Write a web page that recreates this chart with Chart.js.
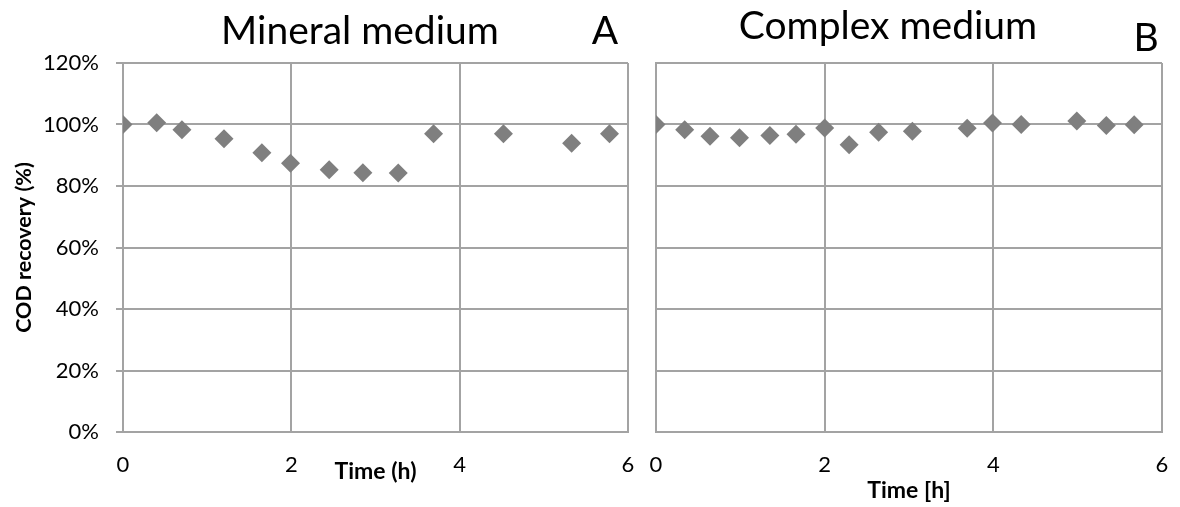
<!DOCTYPE html>
<html>
<head>
<meta charset="utf-8">
<script src="https://cdn.jsdelivr.net/npm/chart.js@4.4.0/dist/chart.umd.min.js"></script>
<style>
  body { margin: 0; background: #fff; }
  .panel { position: absolute; top: 0; }
</style>
</head>
<body>
<div class="panel" style="left:0px"><canvas id="mineralChart" width="640" height="507"></canvas></div>
<div class="panel" style="left:640px"><canvas id="complexChart" width="540" height="507"></canvas></div>
<script>
// sampling times (h) and COD recovery (%) for both media
const mineralTime = [0, 0.40, 0.70, 1.20, 1.65, 1.99, 2.45, 2.85, 3.27, 3.69, 4.52, 5.33, 5.78];
const mineralCOD = [100, 100.6, 98.3, 95.4, 90.8, 87.4, 85.3, 84.3, 84.2, 97.0, 97.0, 93.9, 97.0];

const complexTime = [0, 0.34, 0.64, 0.99, 1.35, 1.66, 2.00, 2.29, 2.64, 3.04, 3.69, 3.99, 4.33, 4.99, 5.34, 5.67];
const complexCOD = [100, 98.3, 96.2, 95.7, 96.4, 96.8, 98.9, 93.4, 97.5, 97.8, 98.8, 100.5, 100, 101.1, 99.7, 99.9];

const timeTicks = [0, 2, 4, 6];
const codTicks = [0, 20, 40, 60, 80, 100, 120];

const FONT = 'Lato, "Open Sans", sans-serif';
const GRID = '#a3a3a3';
const MARKER = '#7f7f7f';

// big panel heading plus the corner letter
const panelHeading = {
  id: 'panelHeading',
  afterDraw(chart, args, opts) {
    const ctx = chart.ctx;
    ctx.save();
    ctx.fillStyle = '#000';
    ctx.textAlign = 'center';
    ctx.textBaseline = 'middle';
    ctx.font = opts.size + 'px ' + FONT;
    ctx.fillText(opts.text, opts.textX, opts.textY);
    ctx.fillText(opts.letter, opts.letterX, opts.letterY);
    ctx.restore();
  }
};

function toPoints(xs, ys) {
  return xs.map((x, i) => ({ x: x, y: ys[i] }));
}

function makePanel(id, xs, ys, o) {
  const ctx = document.getElementById(id).getContext('2d');
  return new Chart(ctx, {
    type: 'scatter',
    data: {
      datasets: [{
        data: toPoints(xs, ys),
        pointStyle: 'rectRot',
        pointRadius: 9.5,
        backgroundColor: MARKER,
        borderWidth: 0
      }]
    },
    options: {
      responsive: false,
      animation: false,
      layout: { padding: { top: 63, right: o.padRight, left: 0, bottom: 0 } },
      plugins: {
        legend: { display: false },
        tooltip: { enabled: false },
        panelHeading: o.heading
      },
      scales: {
        x: {
          type: 'linear',
          min: 0,
          max: 6,
          afterBuildTicks: (s) => { s.ticks = timeTicks.map(v => ({ value: v })); },
          afterFit: (s) => {
            s.height = 75;
            // labels sit far below the axis; don't let that padding squeeze the plot sideways
            s.paddingLeft = 6;
            s.paddingRight = 6;
          },
          grid: { color: GRID, lineWidth: 2, drawTicks: false },
          border: { color: GRID, width: 2 },
          ticks: { color: '#000', padding: 20, font: { family: FONT, size: 22 } },
          title: {
            display: true,
            text: o.xTitle,
            color: '#000',
            font: { family: FONT, size: 23, weight: 'bold' },
            padding: { top: 0, bottom: o.xTitlePad }
          }
        },
        y: {
          min: 0,
          max: 120,
          afterBuildTicks: (s) => { s.ticks = codTicks.map(v => ({ value: v })); },
          afterFit: (s) => { s.width = o.yWidth; },
          grid: { color: GRID, lineWidth: 2, drawTicks: o.yLabels, tickLength: 7 },
          border: { color: GRID, width: 2 },
          ticks: {
            display: o.yLabels,
            color: '#000',
            padding: 17,
            font: { family: FONT, size: 22 },
            callback: (v) => v + '%'
          },
          title: {
            display: o.yLabels,
            text: 'COD recovery (%)',
            color: '#000',
            font: { family: FONT, size: 21.5, weight: 'bold' },
            padding: { top: 11, bottom: 0 }
          }
        }
      }
    },
    plugins: [panelHeading]
  });
}

makePanel('mineralChart', mineralTime, mineralCOD, {
  padRight: 12,
  yWidth: 123,
  yLabels: true,
  xTitle: 'Time (h)',
  xTitlePad: 22,
  heading: { text: 'Mineral medium', letter: 'A', size: 39, textX: 360, textY: 31, letterX: 605, letterY: 31 }
});

makePanel('complexChart', complexTime, complexCOD, {
  padRight: 18,
  yWidth: 16,
  yLabels: false,
  xTitle: 'Time [h]',
  xTitlePad: 3,
  heading: { text: 'Complex medium', letter: 'B', size: 39, textX: 248, textY: 26, letterX: 506, letterY: 38 }
});
</script>
</body>
</html>
